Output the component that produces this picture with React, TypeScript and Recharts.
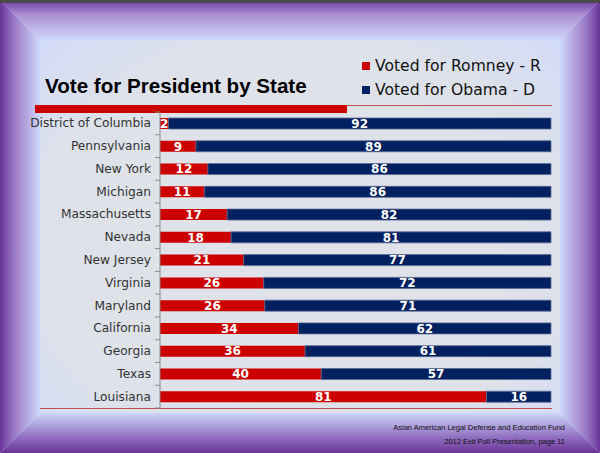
import React from 'react';
import { BarChart, Bar, XAxis, YAxis, Legend, LabelList } from 'recharts';

const STATES = [
  'District of Columbia', 'Pennsylvania', 'New York', 'Michigan', 'Massachusetts', 'Nevada',
  'New Jersey', 'Virginia', 'Maryland', 'California', 'Georgia', 'Texas', 'Louisiana'
];
const ROMNEY = [2, 9, 12, 11, 17, 18, 21, 26, 26, 34, 36, 40, 81];
const OBAMA = [92, 89, 86, 86, 82, 81, 77, 72, 71, 62, 61, 57, 16];
const SERIES_ORDER = ['romney', 'obama'];

const RED = '#cc0000';
const BLUE = '#002060';
const VERDANA = '"DejaVu Sans", Verdana, sans-serif';

const data = STATES.map((state, i) => ({ state, romney: ROMNEY[i], obama: OBAMA[i] }));

const TOP = 112;
const BOTTOM = 45;
const H = 453;
const BAND = (H - TOP - BOTTOM) / STATES.length;

const StateTick = (props: any) => {
  const { x, y, payload, index } = props;
  return (
    <g>
      <text x={x - 9} y={y} dy={4} textAnchor="end" fontSize={12.2} fill="#333" fontFamily={VERDANA}>
        {payload.value}
      </text>
      <line x1={x - 5} x2={x} y1={y + BAND / 2} y2={y + BAND / 2} stroke="#8a8a8a" />
      {index === 0 && <line x1={x - 5} x2={x} y1={y - BAND / 2} y2={y - BAND / 2} stroke="#8a8a8a" />}
    </g>
  );
};

const LegendBox = (props: any) => {
  const items = [...props.payload].sort(
    (a: any, b: any) => SERIES_ORDER.indexOf(a.dataKey) - SERIES_ORDER.indexOf(b.dataKey)
  );
  return (
    <div>
      {items.map((p: any) => (
        <div key={p.value} style={{ display: 'flex', alignItems: 'center', height: 24, fontFamily: VERDANA, fontSize: 15.6, color: '#111' }}>
          <span style={{ width: 8, height: 8, background: p.color, marginRight: 5, display: 'inline-block' }} />
          {p.value}
        </div>
      ))}
    </div>
  );
};

const band = (clip: string, grad: string) => (
  <div style={{ position: 'absolute', inset: 0, clipPath: clip, background: grad }} />
);

const App: React.FC = () => {
  const F = 40;
  return (
    <div style={{ position: 'absolute', left: 0, top: 0, width: 600, height: H, overflow: 'hidden', background: '#d6def9' }}>
      {band(`polygon(0 0, 600px 0, ${600 - F}px ${F}px, ${F}px ${F}px)`, 'linear-gradient(to bottom, #6c3a9c 0px, #a88cd0 14px, #d0d8fa 40px)')}
      {band(`polygon(0 0, ${F}px ${F}px, ${F}px ${H - F}px, 0 ${H}px)`, 'linear-gradient(to right, #6a3498 0px, #9a78c6 14px, #d0d8fa 40px)')}
      {band(`polygon(600px 0, 600px ${H}px, ${600 - F}px ${H - F}px, ${600 - F}px ${F}px)`, 'linear-gradient(to left, #6a3498 0px, #9a78c6 14px, #d0d8fa 40px)')}
      {band(`polygon(0 ${H}px, 600px ${H}px, ${600 - F}px ${H - F}px, ${F}px ${H - F}px)`, 'linear-gradient(to top, #6a3498 0px, #8c68bc 14px, #cfd6f8 40px)')}
      <div style={{ position: 'absolute', left: 0, top: 0, width: 600, height: 3, background: '#4a4a4a' }} />
      <div style={{ position: 'absolute', left: F, top: F, width: 600 - 2 * F, height: H - 2 * F, background: 'radial-gradient(ellipse at 50% 55%, #dfe2e9 55%, #dde1ea 72%, #d3dcf9 100%)' }} />

      <div style={{ position: 'absolute', left: 45, top: 74, fontFamily: '"Liberation Sans", Arial, sans-serif', fontWeight: 'bold', fontSize: 20.6, color: '#000' }}>
        Vote for President by State
      </div>
      <div style={{ position: 'absolute', left: 35, top: 105, width: 312, height: 8, background: RED }} />
      <div style={{ position: 'absolute', left: 347, top: 105, width: 205, height: 1, background: '#c0504d' }} />
      <div style={{ position: 'absolute', left: 40, top: H - BOTTOM, width: 512, height: 1, background: '#c0504d' }} />

      <div style={{ position: 'absolute', left: 0, top: 0 }}>
        <BarChart width={600} height={H} data={data} layout="vertical" stackOffset="expand"
          margin={{ top: TOP, bottom: BOTTOM, left: 0, right: 49 }} barSize={11}>
          <XAxis type="number" hide />
          <YAxis type="category" dataKey="state" width={160} tickSize={0} tickMargin={0}
            tickLine={false} axisLine={{ stroke: '#8a8a8a' }} tick={<StateTick />} interval={0} />
          <Legend layout="vertical" verticalAlign="middle" align="center" content={<LegendBox />}
            wrapperStyle={{ position: 'absolute', left: 362, top: 54, width: 220 }} />
          <Bar dataKey="romney" name="Voted for Romney - R" stackId="a" fill={RED} isAnimationActive={false}>
            <LabelList dataKey="romney" position="center" fill="#fff" fontSize={12} fontWeight="bold" fontFamily={VERDANA} />
          </Bar>
          <Bar dataKey="obama" name="Voted for Obama - D" stackId="a" fill={BLUE} stroke="#5b6a94" strokeWidth={0.8} isAnimationActive={false}>
            <LabelList dataKey="obama" position="center" fill="#fff" fontSize={12} fontWeight="bold" fontFamily={VERDANA} />
          </Bar>
        </BarChart>
      </div>

      <div style={{ position: 'absolute', right: 35, top: 421, textAlign: 'right', fontFamily: '"Liberation Sans", Arial, sans-serif', fontSize: 7.5, color: '#111', lineHeight: '14px' }}>
        <div>Asian American Legal Defense and Education Fund</div>
        <div>2012 Exit Poll Presentation, page 11</div>
      </div>
    </div>
  );
};

export default App;
